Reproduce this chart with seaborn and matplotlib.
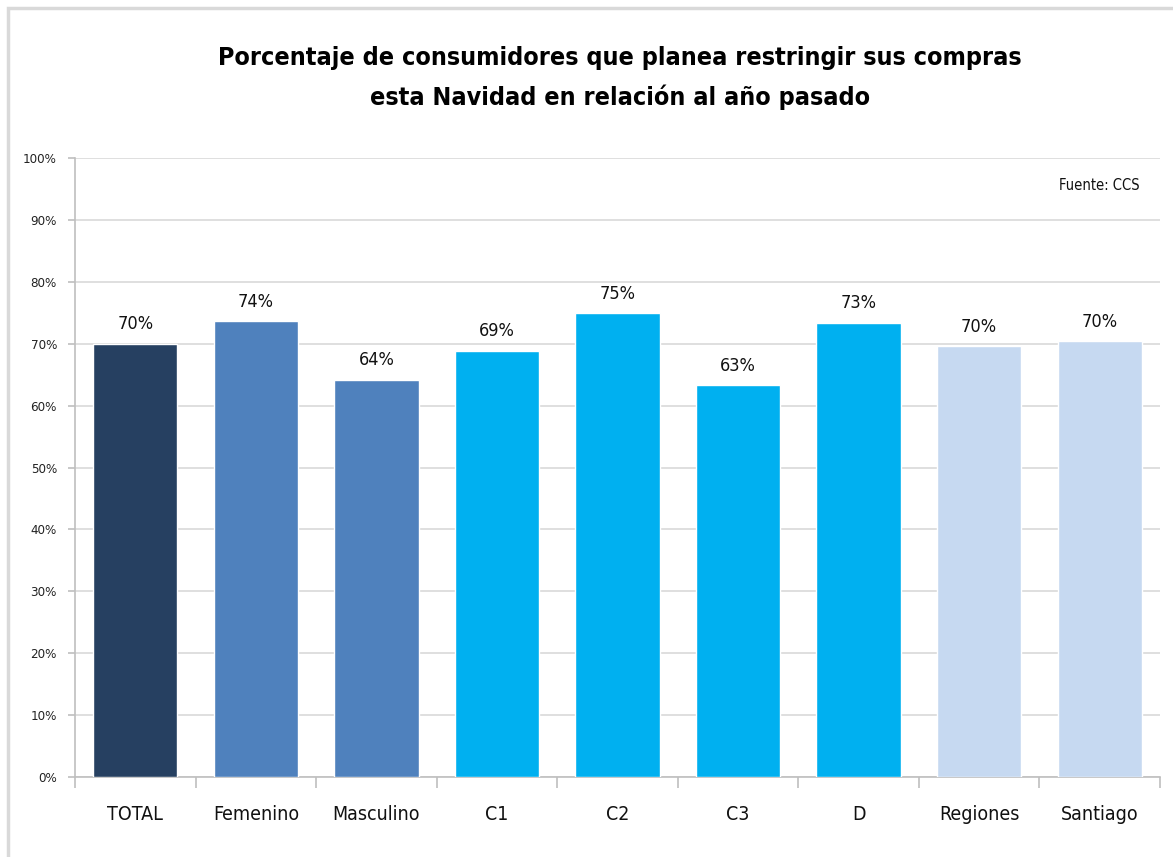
import matplotlib
matplotlib.use("Agg")
import matplotlib.pyplot as plt
import matplotlib.patches as mpatches
import seaborn as sns
import pandas as pd
import numpy as np

# Data
categories = ["TOTAL", "Femenino", "Masculino", "C1", "C2", "C3", "D", "Regiones", "Santiago"]
values = [70.0, 73.6, 64.2, 68.9, 74.9, 63.3, 73.4, 69.6, 70.4]
bar_colors = ["#264061", "#4F81BD", "#4F81BD", "#00B0F0", "#00B0F0",
              "#00B0F0", "#00B0F0", "#C6D9F1", "#C6D9F1"]
y_ticks = list(range(0, 101, 10))
title = "Porcentaje de consumidores que planea restringir sus compras\nesta Navidad en relación al año pasado"
source = "Fuente: CCS"

sns.set_theme(style="white")
plt.rcParams["font.family"] = ["Liberation Sans Narrow", "DejaVu Sans"]
plt.rcParams["font.stretch"] = "condensed"

df = pd.DataFrame({"cat": categories, "val": values})

fig = plt.figure(figsize=(11.73, 8.57), dpi=100)
ax = fig.add_axes([75 / 1173, 1 - 777 / 857, (1160 - 75) / 1173, (777 - 158) / 857])

sns.barplot(data=df, x="cat", y="val", hue="cat", palette=bar_colors,
            order=categories, hue_order=categories, legend=False,
            width=0.70, saturation=1, ax=ax, zorder=3)

ax.set_ylim(0, 100)
ax.set_xlim(-0.5, len(categories) - 0.5)
ax.set_yticks(y_ticks)
ax.set_yticklabels([f"{t}%" for t in y_ticks], fontsize=9.5, color="#222222")
ax.yaxis.grid(True, color="#D9D9D9", linewidth=1.2, zorder=0)
ax.set_axisbelow(True)
ax.set_xlabel("")
ax.set_ylabel("")

# Category labels centred under bars, tick marks between categories
ax.set_xticks(np.arange(len(categories)))
ax.set_xticklabels(categories, fontsize=14, color="#111111")
ax.tick_params(axis="x", which="major", length=0, pad=20)
ax.set_xticks(np.arange(len(categories) + 1) - 0.5, minor=True)
ax.tick_params(axis="x", which="minor", length=8, width=1.2, color="#BFBFBF", bottom=True)
ax.tick_params(axis="y", length=5, width=1.2, color="#BFBFBF", left=True, pad=8)

for side in ["top", "right"]:
    ax.spines[side].set_visible(False)
for side in ["left", "bottom"]:
    ax.spines[side].set_color("#BFBFBF")
    ax.spines[side].set_linewidth(1.2)

# Value labels
for i, v in enumerate(values):
    ax.text(i, v + 1.7, f"{v:.0f}%", ha="center", va="bottom", fontsize=13, color="#111111")

ax.text(0.981, 0.955, source, transform=ax.transAxes, ha="right", va="center",
        fontsize=10.5, color="#111111")

fig.text(620 / 1173, 1 - 78 / 857, title, ha="center", va="center", fontsize=18,
         fontweight="bold", linespacing=1.7, color="#000000")

# Outer frame along top and left edges
fig.add_artist(mpatches.Rectangle((7.5 / 1173, -0.1), 1.2, 1 - 7.5 / 857 + 0.1,
                                  transform=fig.transFigure, fill=False,
                                  edgecolor="#D9D9D9", linewidth=2.5))

fig.savefig("out.png", dpi=100, facecolor="white")
